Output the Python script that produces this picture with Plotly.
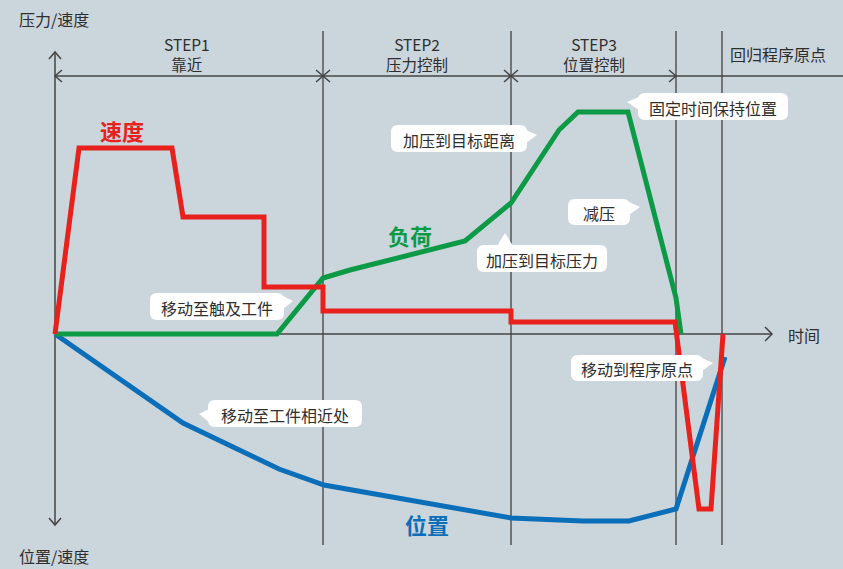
import plotly.graph_objects as go

# ---- data (time / value units, origin at axis crossing) ----
speed_t = [0, 24, 117, 128, 209, 209, 268, 268, 456, 456, 620, 644, 656, 668]
speed_v = [0, 186, 186, 117, 117, 47, 47, 23, 23, 12, 12, -175, -175, 0]

load_t = [0, 222, 268, 295, 410, 456, 504, 523, 573, 621, 626]
load_v = [0, 0, 56, 64, 93, 131, 204, 222, 222, 36, 0]

pos_t = [0, 128, 224, 269, 456, 528, 574, 621, 670]
pos_v = [0, -89, -135, -151, -184, -187, -187, -175, -23]

step_bounds = [268, 456, 621, 667]
step_titles = ["STEP1", "STEP2", "STEP3"]
step_subtitles = ["靠近", "压力控制", "位置控制"]
return_label = "回归程序原点"

W, H = 843, 569
OX, OY = 55, 334


def X(px):
    return px - OX


def Y(py):
    return OY - py


def PX(t):
    return t + OX


BG = "#cbd5dc"
AXC = "#444444"
TXT = "#2e2e2e"
FONT = "Noto Sans CJK SC"
RED = "#e8211d"
GREEN = "#0d9a46"
BLUE = "#0b6eb8"

fig = go.Figure()

fig.add_trace(go.Scatter(x=pos_t, y=pos_v, mode="lines",
                         line=dict(color=BLUE, width=5), hoverinfo="skip"))
fig.add_trace(go.Scatter(x=load_t, y=load_v, mode="lines",
                         line=dict(color=GREEN, width=5), hoverinfo="skip"))
fig.add_trace(go.Scatter(x=speed_t, y=speed_v, mode="lines",
                         line=dict(color=RED, width=5), hoverinfo="skip"))

shapes = []


def seg(points, color=AXC, width=1.5, layer="below"):
    d = "M " + " L ".join(f"{X(a)},{Y(b)}" for a, b in points)
    shapes.append(dict(type="path", path=d, xref="x", yref="y",
                       line=dict(color=color, width=width), layer=layer))


# separators
for b in step_bounds:
    px = PX(b)
    seg([(px, 31), (px, 545)], color="#555555", width=1.5)

# y axis with arrows
seg([(55, 52), (55, 525)])
seg([(49, 59), (55, 52), (61, 59)])
seg([(49, 518), (55, 525), (61, 518)])
# time axis
seg([(55, 334), (772, 334)])
seg([(765, 327), (772, 334), (765, 341)])
# step arrow line
seg([(55, 76), (843, 76)])
seg([(62, 70), (55, 76), (62, 82)])
for b in step_bounds[:2]:
    px = PX(b)
    seg([(px - 7, 70), (px, 76), (px - 7, 82)])
    seg([(px + 7, 70), (px, 76), (px + 7, 82)])
px = PX(step_bounds[2])
seg([(px - 7, 70), (px, 76), (px - 7, 82)])


def rrect(x0, y0, x1, y1, r=7):
    pts = (f"M {X(x0 + r)},{Y(y0)} L {X(x1 - r)},{Y(y0)} "
           f"Q {X(x1)},{Y(y0)} {X(x1)},{Y(y0 + r)} "
           f"L {X(x1)},{Y(y1 - r)} Q {X(x1)},{Y(y1)} {X(x1 - r)},{Y(y1)} "
           f"L {X(x0 + r)},{Y(y1)} Q {X(x0)},{Y(y1)} {X(x0)},{Y(y1 - r)} "
           f"L {X(x0)},{Y(y0 + r)} Q {X(x0)},{Y(y0)} {X(x0 + r)},{Y(y0)} Z")
    return pts


callouts = [
    ("移动至触及工件", (150, 293, 284, 320), "right", (293, 301)),
    ("移动至工件相近处", (208, 400, 362, 427), "left", (199, 414)),
    ("加压到目标距离", (391, 125, 527, 152), "right", (537, 135)),
    ("固定时间保持位置", (638, 93, 788, 120), "left", (627, 102)),
    ("减压", (568, 199, 630, 225), "right", (640, 207)),
    ("加压到目标压力", (477, 245, 607, 272), "up", (505, 233)),
    ("移动到程序原点", (571, 355, 703, 381), "right", (713, 363)),
]

annotations = []
for text, (x0, y0, x1, y1), side, (tx, ty) in callouts:
    shapes.append(dict(type="path", path=rrect(x0, y0, x1, y1), xref="x", yref="y",
                       fillcolor="white", line=dict(width=0), layer="above"))
    if side == "right":
        tri = [(x1 - 1, ty - 5), (tx, ty), (x1 - 1, ty + 8)]
    elif side == "left":
        tri = [(x0 + 1, ty - 5), (tx, ty), (x0 + 1, ty + 8)]
    else:
        tri = [(tx - 8, y0 + 1), (tx, ty), (tx + 8, y0 + 1)]
    d = "M " + " L ".join(f"{X(a)},{Y(b)}" for a, b in tri) + " Z"
    shapes.append(dict(type="path", path=d, xref="x", yref="y",
                       fillcolor="white", line=dict(width=0), layer="above"))
    annotations.append(dict(x=X((x0 + x1) / 2), y=Y((y0 + y1) / 2 + 1), text=text,
                            showarrow=False, xref="x", yref="y",
                            font=dict(family=FONT, size=16, color=TXT)))

# step labels
lefts = [55] + [PX(b) for b in step_bounds[:2]]
rights = [PX(b) for b in step_bounds]
for i in range(3):
    cx = X((lefts[i] + rights[i]) / 2 + (i == 0) * -2)
    annotations.append(dict(x=cx, y=Y(54), text=step_titles[i] + "<br>" + step_subtitles[i],
                            showarrow=False, align="center",
                            font=dict(family=FONT, size=15.5, color=TXT)))
annotations.append(dict(x=X(778), y=Y(54), text=return_label, showarrow=False,
                        font=dict(family=FONT, size=16, color=TXT)))

# axis labels
annotations.append(dict(x=X(17), y=Y(19), text="压力/速度", showarrow=False, xanchor="left",
                        font=dict(family=FONT, size=16, color=TXT)))
annotations.append(dict(x=X(17), y=Y(556), text="位置/速度", showarrow=False, xanchor="left",
                        font=dict(family=FONT, size=16, color=TXT)))
annotations.append(dict(x=X(786), y=Y(335), text="时间", showarrow=False, xanchor="left",
                        font=dict(family=FONT, size=16, color=TXT)))

# series labels
annotations.append(dict(x=X(122), y=Y(130), text="<b>速度</b>", showarrow=False,
                        font=dict(family=FONT, size=22, color=RED)))
annotations.append(dict(x=X(410), y=Y(235), text="<b>负荷</b>", showarrow=False,
                        font=dict(family=FONT, size=22, color=GREEN)))
annotations.append(dict(x=X(427), y=Y(524), text="<b>位置</b>", showarrow=False,
                        font=dict(family=FONT, size=22, color=BLUE)))

fig.update_layout(
    width=W, height=H, autosize=False,
    margin=dict(l=0, r=0, t=0, b=0, pad=0),
    paper_bgcolor=BG, plot_bgcolor=BG,
    showlegend=False,
    xaxis=dict(range=[X(0), X(W)], visible=False, fixedrange=True),
    yaxis=dict(range=[Y(H), Y(0)], visible=False, fixedrange=True),
    shapes=shapes,
    annotations=annotations,
)

fig.write_html("out.html", config={"displayModeBar": False},
               post_script="document.body.style.margin='0';document.body.style.overflow='hidden';"
                           "document.body.style.background='" + BG + "';")
